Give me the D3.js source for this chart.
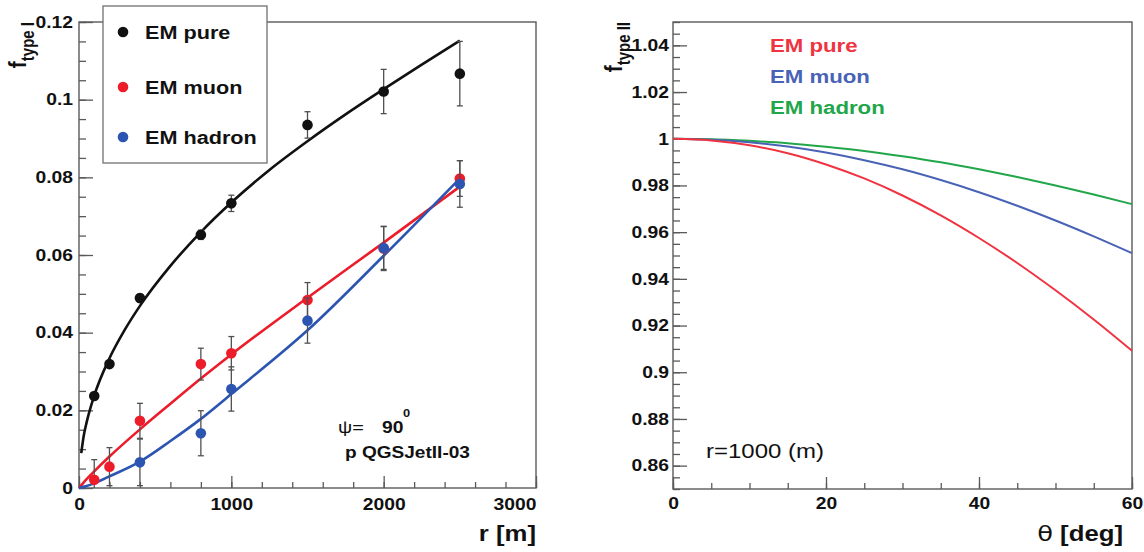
<!DOCTYPE html>
<html>
<head>
<meta charset="utf-8">
<script src="https://cdn.jsdelivr.net/npm/d3@7"></script>
<style>
  html, body { margin: 0; padding: 0; background: #fff; }
  svg text { font-family: "Liberation Sans", Arial, Helvetica, sans-serif; }
</style>
</head>
<body>
<svg id="chart" width="1144" height="552"></svg>
<script>
// ---------------- DATA ----------------
// Left panel: f_type I vs r [m]
const rPoints   = [100, 200, 400, 800, 1000, 1500, 2000, 2500];
const purePts   = [0.0237, 0.0319, 0.0489, 0.0652, 0.0733, 0.0935, 0.1021, 0.1067];
const pureErr   = [0.0008, 0.0008, 0.0010, 0.0012, 0.0021, 0.0034, 0.0057, 0.0083];
const muonPts   = [0.0021, 0.0055, 0.0173, 0.0319, 0.0347, 0.0484, 0.0617, 0.0797];
const muonErr   = [0.0052, 0.0049, 0.0045, 0.0041, 0.0043, 0.0045, 0.0057, 0.0046];
const hadronR   = [400, 800, 1000, 1500, 2000, 2500];
const hadronPts = [0.0066, 0.0141, 0.0255, 0.0431, 0.0618, 0.0783];
const hadronErr = [0.0060, 0.0058, 0.0057, 0.0058, 0.0055, 0.0060];

// fitted curves
const pureFitR   = [15, 30, 50, 100, 200, 300, 400, 600, 800, 1000, 1250, 1500, 1750, 2000, 2250, 2500];
const pureFitV   = [0.0090, 0.0132, 0.0169, 0.0238, 0.0334, 0.0407, 0.0469, 0.0572, 0.0659, 0.0735, 0.0819, 0.0893, 0.0962, 0.1027, 0.1090, 0.1152];
const muonFitR   = [0, 50, 100, 200, 400, 600, 800, 1000, 1500, 2000, 2500];
const muonFitV   = [0, 0.0023, 0.0043, 0.0081, 0.0151, 0.0217, 0.0282, 0.0344, 0.0490, 0.0632, 0.0776];
const hadronFitR = [0, 50, 100, 200, 400, 600, 800, 1000, 1500, 2000, 2500];
const hadronFitV = [0, 0.0005, 0.0012, 0.0030, 0.0068, 0.0121, 0.0178, 0.0242, 0.0406, 0.0598, 0.0797];

const leftLegend = ["EM pure", "EM muon", "EM hadron"];
const leftXTicks = [0, 1000, 2000, 3000];
const leftYTicks = [0, 0.02, 0.04, 0.06, 0.08, 0.1, 0.12];

// Right panel: f_type II vs theta [deg]
const theta   = [0, 5, 10, 15, 20, 25, 30, 35, 40, 45, 50, 55, 60];
const fPure   = [1, 0.9993, 0.9972, 0.9938, 0.9890, 0.9830, 0.9757, 0.9672, 0.9575, 0.9468, 0.9351, 0.9226, 0.9092];
const fMuon   = [1, 0.9996, 0.9985, 0.9967, 0.9941, 0.9908, 0.9869, 0.9823, 0.9771, 0.9713, 0.9650, 0.9582, 0.9510];
const fHadron = [1, 0.9998, 0.9991, 0.9981, 0.9966, 0.9948, 0.9925, 0.9899, 0.9869, 0.9836, 0.9800, 0.9761, 0.9720];
const rightLegend = ["EM pure", "EM muon", "EM hadron"];
const rightXTicks = [0, 20, 40, 60];
const rightYTicks = [0.86, 0.88, 0.9, 0.92, 0.94, 0.96, 0.98, 1, 1.02, 1.04];

// ---------------- STYLE ----------------
const SX = 1.17;            // horizontal stretch of the original figure
const AX = "#5a5a5a";
const colL = { pure: "#111111", muon: "#ec1c2a", hadron: "#2c55b2" };
const colR = { pure: "#ef3340", muon: "#4863b6", hadron: "#22a64a" };
const fmt = v => String(+v.toFixed(4));

const svg = d3.select("#chart");

function stretch(sel) {
  sel.each(function () {
    const t = d3.select(this);
    const x = +(t.attr("x") || 0), y = +(t.attr("y") || 0);
    t.attr("x", 0).attr("y", 0).attr("transform", `translate(${x},${y}) scale(${SX},1)`);
  });
}
function label(g, x, y, str, opt = {}) {
  const t = g.append("text")
    .attr("transform", `translate(${x},${y}) scale(${SX},1)`)
    .attr("font-size", opt.size || 16)
    .attr("font-weight", opt.weight || "bold")
    .attr("fill", opt.fill || "#111")
    .attr("text-anchor", opt.anchor || "start")
    .text(str);
  return t;
}

function styleAxis(g, fs) {
  g.select(".domain").remove();
  g.selectAll(".tick line").attr("stroke", AX).attr("stroke-width", 1.3);
  g.selectAll(".tick text").attr("font-size", fs).attr("font-weight", "bold").attr("fill", "#111")
    .attr("font-family", "Liberation Sans, Arial, sans-serif");
  stretch(g.selectAll(".tick text"));
}

// ================= LEFT PANEL =================
const xL = d3.scaleLinear().domain([0, 3000]).range([79, 536]);
const yL = d3.scaleLinear().domain([0, 0.12]).range([488, 22]);
const gL = svg.append("g");

// minor ticks
gL.append("g").attr("transform", `translate(0,${yL(0)})`)
  .call(d3.axisBottom(xL).tickValues(d3.range(0, 3001, 200)).tickSize(-6).tickFormat(""))
  .call(g => styleAxis(g, 16));
gL.append("g").attr("transform", `translate(${xL(0)},0)`)
  .call(d3.axisLeft(yL).tickValues(d3.range(0, 0.1201, 0.005)).tickSize(-7).tickFormat(""))
  .call(g => styleAxis(g, 16));
// major ticks
gL.append("g").attr("transform", `translate(0,${yL(0)})`)
  .call(d3.axisBottom(xL).tickValues(leftXTicks).tickSize(-12).tickPadding(10).tickFormat(fmt))
  .call(g => styleAxis(g, 16.5))
  .call(g => g.selectAll(".tick").filter(d => d === 3000).select("text")
    .attr("text-anchor", "end").attr("transform", `translate(0,10) scale(${SX},1)`));
gL.append("g").attr("transform", `translate(${xL(0)},0)`)
  .call(d3.axisLeft(yL).tickValues(leftYTicks).tickSize(-14).tickPadding(6).tickFormat(fmt))
  .call(g => styleAxis(g, 16.5));
// frame
gL.append("rect").attr("x", xL(0)).attr("y", yL(0.12))
  .attr("width", xL(3000) - xL(0)).attr("height", yL(0) - yL(0.12))
  .attr("fill", "none").attr("stroke", AX).attr("stroke-width", 1.4);

// fit lines
const lineL = d3.line().curve(d3.curveMonotoneX).x(d => xL(d[0])).y(d => yL(d[1]));
gL.append("path").datum(d3.zip(pureFitR, pureFitV)).attr("d", lineL)
  .attr("fill", "none").attr("stroke", colL.pure).attr("stroke-width", 2.6);
gL.append("path").datum(d3.zip(muonFitR, muonFitV)).attr("d", lineL)
  .attr("fill", "none").attr("stroke", colL.muon).attr("stroke-width", 2.6);
gL.append("path").datum(d3.zip(hadronFitR, hadronFitV)).attr("d", lineL)
  .attr("fill", "none").attr("stroke", colL.hadron).attr("stroke-width", 2.6);

// error bars + markers
function drawSeries(rs, vs, es, color) {
  const data = rs.map((r, i) => ({ r, v: vs[i], e: es[i] }));
  const eg = gL.append("g").attr("stroke", "#505050").attr("stroke-width", 1.3);
  data.forEach(d => {
    const y1 = yL(Math.min(d.v + d.e, 0.12)), y0 = yL(Math.max(d.v - d.e, 0));
    eg.append("line").attr("x1", xL(d.r)).attr("x2", xL(d.r)).attr("y1", y1).attr("y2", y0);
    if (d.v + d.e < 0.12) eg.append("line").attr("x1", xL(d.r) - 3).attr("x2", xL(d.r) + 3).attr("y1", y1).attr("y2", y1);
    if (d.v - d.e > 0) eg.append("line").attr("x1", xL(d.r) - 3).attr("x2", xL(d.r) + 3).attr("y1", y0).attr("y2", y0);
  });
  gL.append("g").selectAll("circle").data(data).join("circle")
    .attr("cx", d => xL(d.r)).attr("cy", d => yL(d.v)).attr("r", 5.3).attr("fill", color);
}
drawSeries(rPoints, purePts, pureErr, colL.pure);
drawSeries(rPoints, muonPts, muonErr, colL.muon);
drawSeries(hadronR, hadronPts, hadronErr, colL.hadron);

// legend
const leg = gL.append("g");
leg.append("rect").attr("x", 103).attr("y", 6).attr("width", 164).attr("height", 157)
  .attr("fill", "#fff").attr("stroke", "#707070").attr("stroke-width", 1.3);
const legCols = [colL.pure, colL.muon, colL.hadron];
const legY = [32, 87, 137];
leftLegend.forEach((name, i) => {
  leg.append("circle").attr("cx", 123).attr("cy", legY[i]).attr("r", 5.3).attr("fill", legCols[i]);
  label(leg, 145, legY[i] + 6.5, name, { size: 18.5 });
});

// axis titles
label(gL, 536, 541, "r [m]", { size: 22, anchor: "end" });
const ytL = gL.append("text").attr("transform", `translate(26,22) scale(${SX},1) rotate(-90)`)
  .attr("text-anchor", "end").attr("font-weight", "bold").attr("fill", "#111");
ytL.append("tspan").attr("font-size", 21).text("f");
ytL.append("tspan").attr("font-size", 15).attr("dy", 7).text("type I");

// annotation
label(gL, 338, 433, "ψ=", { size: 17, weight: "normal" });
label(gL, 382, 433, "90", { size: 16.5 });
label(gL, 403, 417, "0", { size: 11 });
label(gL, 345, 458, "p QGSJetII-03", { size: 16.3 });

// ================= RIGHT PANEL =================
const xR = d3.scaleLinear().domain([0, 60]).range([673, 1132]);
const yR = d3.scaleLinear().domain([0.85, 1.05]).range([489, 22]);
const gR = svg.append("g");

gR.append("g").attr("transform", `translate(0,${yR(0.85)})`)
  .call(d3.axisBottom(xR).tickValues(d3.range(0, 60.01, 5)).tickSize(-6).tickFormat(""))
  .call(g => styleAxis(g, 16));
gR.append("g").attr("transform", `translate(${xR(0)},0)`)
  .call(d3.axisLeft(yR).tickValues(d3.range(0.85, 1.0501, 0.005)).tickSize(-7).tickFormat(""))
  .call(g => styleAxis(g, 16));
gR.append("g").attr("transform", `translate(0,${yR(0.85)})`)
  .call(d3.axisBottom(xR).tickValues(rightXTicks).tickSize(-12).tickPadding(8).tickFormat(fmt))
  .call(g => styleAxis(g, 16.5));
gR.append("g").attr("transform", `translate(${xR(0)},0)`)
  .call(d3.axisLeft(yR).tickValues(rightYTicks).tickSize(-14).tickPadding(4).tickFormat(fmt))
  .call(g => styleAxis(g, 16.5));
gR.append("rect").attr("x", xR(0)).attr("y", yR(1.05))
  .attr("width", xR(60) - xR(0)).attr("height", yR(0.85) - yR(1.05))
  .attr("fill", "none").attr("stroke", AX).attr("stroke-width", 1.4);

const lineR = d3.line().curve(d3.curveMonotoneX).x(d => xR(d[0])).y(d => yR(d[1]));
[[fHadron, colR.hadron], [fMuon, colR.muon], [fPure, colR.pure]].forEach(([vals, c]) => {
  gR.append("path").datum(d3.zip(theta, vals)).attr("d", lineR)
    .attr("fill", "none").attr("stroke", c).attr("stroke-width", 2);
});

const rCols = [colR.pure, colR.muon, colR.hadron];
const rLegY = [52, 83, 114];
rightLegend.forEach((name, i) => label(gR, 770, rLegY[i], name, { size: 19, fill: rCols[i] }));

label(gR, 706, 458, "r=1000 (m)", { size: 20.5, weight: "normal" });

const xtR = gR.append("text").attr("transform", `translate(1123,541) scale(${SX},1)`)
  .attr("text-anchor", "end").attr("fill", "#111");
xtR.append("tspan").attr("font-size", 22).attr("font-family", "DejaVu Sans, sans-serif").text("θ");
xtR.append("tspan").attr("font-size", 22).attr("font-weight", "bold").text(" [deg]");

const ytR = gR.append("text").attr("transform", `translate(622,22) scale(${SX},1) rotate(-90)`)
  .attr("text-anchor", "end").attr("font-weight", "bold").attr("fill", "#111");
ytR.append("tspan").attr("font-size", 21).text("f");
ytR.append("tspan").attr("font-size", 15).attr("dy", 7).text("type II");
</script>
</body>
</html>
